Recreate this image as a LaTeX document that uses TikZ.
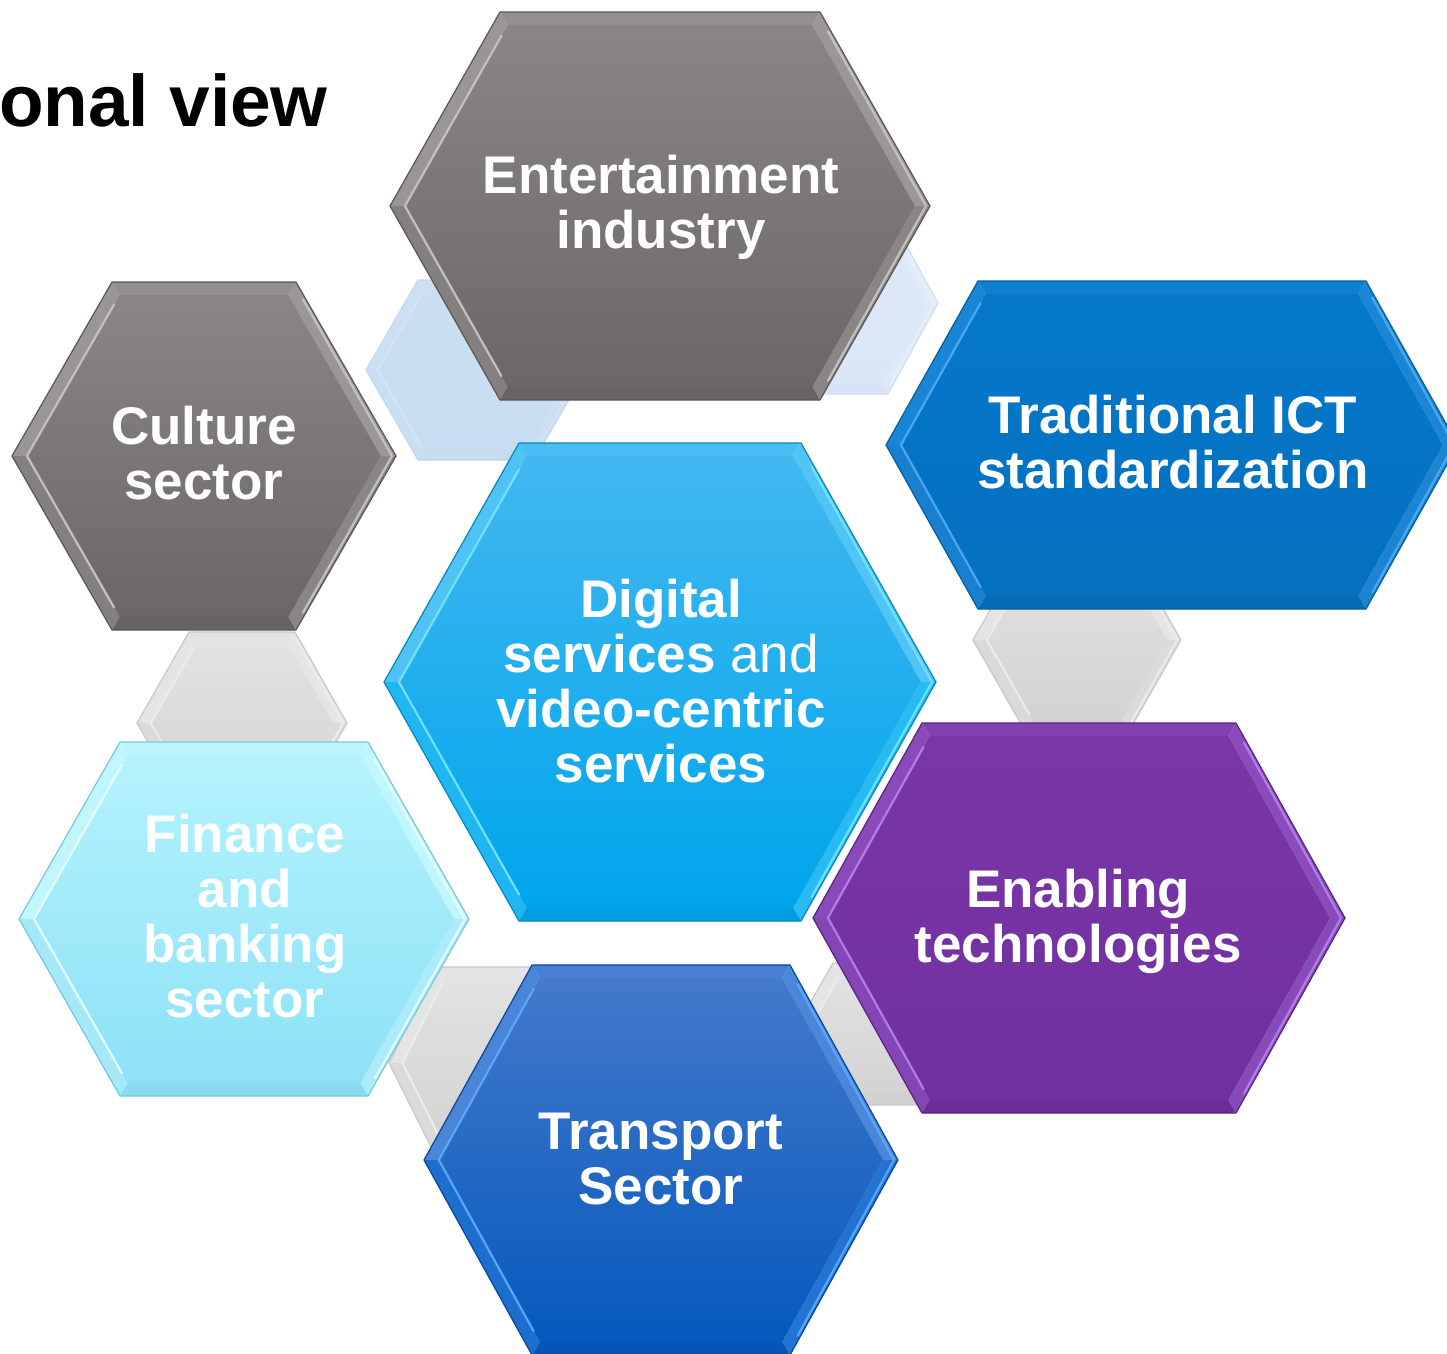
\documentclass[tikz,border=0pt]{standalone}
\usepackage{fontspec}
\setmainfont{Liberation Sans}
% colour sets: top, bot, lt (light facet), dk (dark edge)
\definecolor{hgraytop}{HTML}{8A8685}\definecolor{hgraybot}{HTML}{6B6766}
\definecolor{hgraylt}{HTML}{C4C0BF}\definecolor{hgraydk}{HTML}{5A5655}
\definecolor{hicttop}{HTML}{0578CA}\definecolor{hictbot}{HTML}{0570C0}
\definecolor{hictlt}{HTML}{4AA8F0}\definecolor{hictdk}{HTML}{045E9E}
\definecolor{hdigtop}{HTML}{42B8F0}\definecolor{hdigbot}{HTML}{00A5EC}
\definecolor{hdiglt}{HTML}{70E0FF}\definecolor{hdigdk}{HTML}{0487C2}
\definecolor{hfintop}{HTML}{B4F3FD}\definecolor{hfinbot}{HTML}{8DE1F7}
\definecolor{hfinlt}{HTML}{E2FDFF}\definecolor{hfindk}{HTML}{78C8DC}
\definecolor{henatop}{HTML}{7A36A8}\definecolor{henabot}{HTML}{7030A0}
\definecolor{henalt}{HTML}{B27DE8}\definecolor{henadk}{HTML}{572382}
\definecolor{htratop}{HTML}{4479CB}\definecolor{htrabot}{HTML}{0559BD}
\definecolor{htralt}{HTML}{5AA6F8}\definecolor{htradk}{HTML}{0A459C}
\definecolor{hcontop}{HTML}{E2E2E2}\definecolor{hconbot}{HTML}{D3D3D3}
\definecolor{hconlt}{HTML}{EBEBEB}\definecolor{hcondk}{HTML}{C9C9C9}
\definecolor{hlbatop}{HTML}{CBDFF2}\definecolor{hlbabot}{HTML}{C8DDF1}
\definecolor{hlbalt}{HTML}{D3E4F5}\definecolor{hlbadk}{HTML}{C2D8EE}
\definecolor{hlbbtop}{HTML}{DEE9F7}\definecolor{hlbbbot}{HTML}{DAE6F6}
\definecolor{hlbblt}{HTML}{E6EEF9}\definecolor{hlbbdk}{HTML}{D2E0F2}
% bevelled hexagon: cx, cy, half width a, slant inset b, half height h, bevel w, colour prefix
\newcommand\bhex[7]{%
  \pgfmathsetmacro\hxa{#3-#6*sqrt(1+(#4/#5)^2)}%
  \pgfmathsetmacro\hxh{#5-#6}%
  \pgfmathsetmacro\hxb{(#4/#5)*\hxh}%
  \coordinate (P1) at ({#1-#3},{#2});
  \coordinate (P2) at ({#1-#3+#4},{#2-#5});
  \coordinate (P3) at ({#1+#3-#4},{#2-#5});
  \coordinate (P4) at ({#1+#3},{#2});
  \coordinate (P5) at ({#1+#3-#4},{#2+#5});
  \coordinate (P6) at ({#1-#3+#4},{#2+#5});
  \coordinate (Q1) at ({#1-\hxa},{#2});
  \coordinate (Q2) at ({#1-\hxa+\hxb},{#2-\hxh});
  \coordinate (Q3) at ({#1+\hxa-\hxb},{#2-\hxh});
  \coordinate (Q4) at ({#1+\hxa},{#2});
  \coordinate (Q5) at ({#1+\hxa-\hxb},{#2+\hxh});
  \coordinate (Q6) at ({#1-\hxa+\hxb},{#2+\hxh});
  \fill[#7top!85!#7lt] (P2)--(P3)--(Q3)--(Q2)--cycle;
  \fill[#7top!72!#7lt] (P1)--(P2)--(Q2)--(Q1)--cycle;
  \fill[#7bot!72!#7lt] (P6)--(P1)--(Q1)--(Q6)--cycle;
  \fill[#7top!70!#7lt] (P3)--(P4)--(Q4)--(Q3)--cycle;
  \fill[#7bot!65!#7lt] (P4)--(P5)--(Q5)--(Q4)--cycle;
  \fill[#7bot!75!#7dk] (P5)--(P6)--(Q6)--(Q5)--cycle;
  \shade[top color=#7top, bottom color=#7bot] (Q1)--(Q2)--(Q3)--(Q4)--(Q5)--(Q6)--cycle;
  \draw[#7lt, line width=2.2pt, line cap=round] ($(Q6)!0.06!(Q1)$)--(Q1)--($(Q2)!0.06!(Q1)$);
  \draw[#7lt, line width=2.2pt, line cap=round] ($(P3)!0.1!(P4)+(-3,0)$)--($(P4)+(-4,0)$)--($(P5)!0.1!(P4)+(-3,0)$);
  \draw[#7dk, line width=1.2pt, line join=round] (P1)--(P2)--(P3)--(P4)--(P5)--(P6)--cycle;
}
\usetikzlibrary{calc}
\tikzset{
  hextext/.style={text=white, align=center, anchor=base,
    font=\fontsize{53}{55}\selectfont\bfseries, inner sep=0pt},
  titletext/.style={text=black, anchor=base east,
    font=\fontsize{73}{80}\selectfont\bfseries, inner sep=0pt}
}
\begin{document}
\begin{tikzpicture}[x=1pt,y=-1pt]
\useasboundingbox (0,0) rectangle (1447,1353);
\clip (0,0) rectangle (1447,1353);
\fill[white] (0,0) rectangle (1447,1353);
% faded linking hexagons
\bhex{476}{370}{110}{52}{90}{10}{hlba}
\bhex{828}{303}{110}{50}{91}{10}{hlbb}
\bhex{242}{723}{105}{52}{91}{12}{hcon}
\bhex{1077}{640}{104}{52}{91}{12}{hcon}
\bhex{494}{1063}{105}{48}{96}{12}{hcon}
\bhex{897}{1034}{105}{41}{71}{12}{hcon}
% main hexagons
\bhex{660}{206}{270}{110}{194}{13}{hgray}
\bhex{204}{456}{192}{100}{174}{13}{hgray}
\bhex{1172}{445}{286}{92}{164}{13}{hict}
\bhex{244}{919}{225}{101}{177}{13}{hfin}
\bhex{1079}{918}{266}{109}{195}{13}{hena}
\bhex{660}{682}{276}{135}{239}{13}{hdig}
\bhex{661}{1160}{237}{108}{195}{13}{htra}
% texts (base anchor = baseline of the last line)
\node[titletext] (title) at (328,126) {onal view};
\node[hextext] (ent) at (661,248) {Entertainment\\industry};
\node[hextext] (cul) at (204,499) {Culture\\sector};
\node[hextext] (ict) at (1173,488) {Traditional ICT\\standardization};
\node[hextext] (dig) at (661,782) {Digital\\services {\mdseries and}\\video-centric\\services};
\node[hextext] (fin) at (245,1017) {Finance\\and\\banking\\sector};
\node[hextext] (ena) at (1078,962) {Enabling\\technologies};
\node[hextext] (tra) at (661,1204) {Transport\\Sector};
\end{tikzpicture}
\end{document}
